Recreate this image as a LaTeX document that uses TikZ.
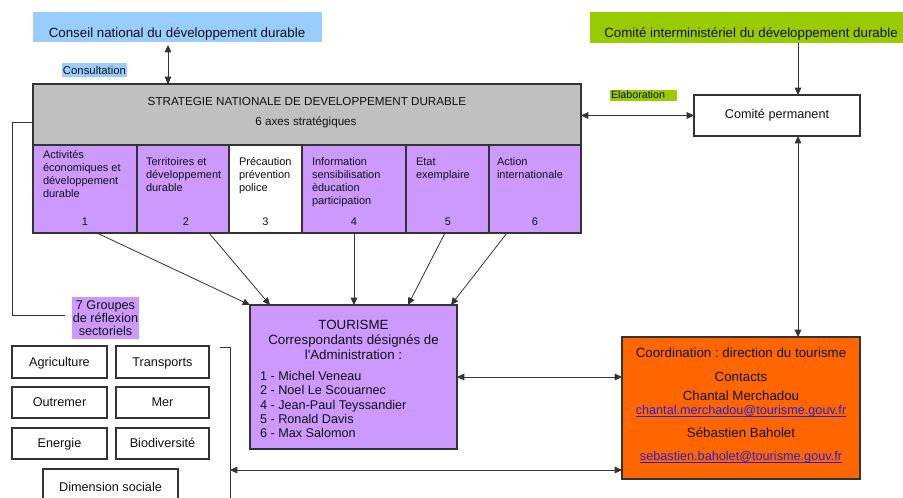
\documentclass[tikz,border=0pt]{standalone}
\usepackage{fontspec}
\setmainfont{Liberation Sans}
\usetikzlibrary{arrows.meta,calc}
\frenchspacing
\definecolor{cblue}{HTML}{99CCFF}
\definecolor{cgreen}{HTML}{99CC00}
\definecolor{cpurple}{HTML}{CC99FF}
\definecolor{cgray}{HTML}{C0C0C0}
\definecolor{corange}{HTML}{FF6600}
\definecolor{bord}{HTML}{333333}
\definecolor{ink}{HTML}{111111}
\definecolor{mail}{HTML}{2222DD}
\newcommand\mailul[1]{{\setbox0=\hbox{#1}\rlap{\rule[-1.3pt]{\wd0}{0.55pt}}\box0}}
\begin{document}
\begin{tikzpicture}[x=0.75pt,y=-0.75pt,
  sz/.style 2 args={minimum width=#1*0.75pt, minimum height=#2*0.75pt},
  box/.style={draw=bord, line width=0.9pt, inner sep=0pt, outer sep=0pt, text=ink},
  flat/.style={draw=none, inner sep=0pt, outer sep=0pt, text=ink},
  txt/.style={inner sep=0pt, outer sep=0pt, text=ink},
  ln/.style={draw=bord, line width=0.6pt},
  arr/.style={ln, -{Triangle[length=5.5pt,width=5pt]}},
  darr/.style={ln, {Triangle[length=5.5pt,width=5pt]}-{Triangle[length=5.5pt,width=5pt]}},
  f10/.style={font=\fontsize{10pt}{12pt}\selectfont},
  f95/.style={font=\fontsize{9.5pt}{11pt}\selectfont},
  sect/.style={box, fill=white, f95, text height=6.6pt, text depth=0pt},
  fcol/.style={font=\fontsize{8.25pt}{9.75pt}\selectfont},
]
\useasboundingbox (0,0) rectangle (903,497);
\clip (0,0) rectangle (903,497);
\fill[white] (0,0) rectangle (903,497);

% top boxes
\node[flat, fill=cblue, sz={289}{30}] (cnd) at (177.5,27) {};
\node[txt, f10, anchor=base] (cndt) at (177,37) {Conseil national du développement durable};
\node[flat, fill=cgreen, sz={322}{31}] (cid) at (751,27.5) {};
\node[txt, f10, anchor=base] (cidt) at (751,37) {Comité interministériel du développement durable};

% labels
\node[flat, fill=cblue, sz={65}{14}, font=\fontsize{8.5pt}{10pt}\selectfont] (cons) at (94.5,70) {Consultation};
\node[flat, fill=cgreen, sz={67}{11}] (elab) at (643.5,95.5) {};
\node[txt, anchor=base west, font=\fontsize{8pt}{9pt}\selectfont] (elabt) at (611,98) {Elaboration};

% strategy
\node[box, fill=cgray, sz={548}{61}] (strat) at (307,114.5) {};
\node[txt, anchor=base, font=\fontsize{8.75pt}{10pt}\selectfont] (strat1) at (307,105) {STRATEGIE NATIONALE DE DEVELOPPEMENT DURABLE};
\node[txt, anchor=base, font=\fontsize{8.75pt}{10pt}\selectfont] (strat2) at (306,125) {6 axes stratégiques};

\node[box, fill=cpurple, sz={104}{88}] (c1) at (85,189) {};
\node[box, fill=cpurple, sz={92}{88}] (c2) at (183,189) {};
\node[box, fill=white, sz={73}{88}] (c3) at (265.5,189) {};
\node[box, fill=cpurple, sz={104}{88}] (c4) at (354,189) {};
\node[box, fill=cpurple, sz={83}{88}] (c5) at (447.5,189) {};
\node[box, fill=cpurple, sz={92}{88}] (c6) at (535,189) {};

\node[txt, fcol, align=left, anchor=north west] (c1t) at (43,150) {Activités\\économiques et\\développement\\durable};
\node[txt, fcol, align=left, anchor=north west] (c2t) at (146,158) {Territoires et\\développement\\durable};
\node[txt, fcol, align=left, anchor=north west] (c3t) at (239,157) {Précaution\\prévention\\police};
\node[txt, fcol, align=left, anchor=north west] (c4t) at (312,158) {Information\\sensibilisation\\èducation\\participation};
\node[txt, fcol, align=left, anchor=north west] (c5t) at (416,158) {Etat\\exemplaire};
\node[txt, fcol, align=left, anchor=north west] (c6t) at (497,158) {Action\\internationale};

\node[txt, fcol, anchor=base] (n1) at (85,225) {1};
\node[txt, fcol, anchor=base] (n2) at (186,225) {2};
\node[txt, fcol, anchor=base] (n3) at (265.5,225) {3};
\node[txt, fcol, anchor=base] (n4) at (354,225) {4};
\node[txt, fcol, anchor=base] (n5) at (448,225) {5};
\node[txt, fcol, anchor=base] (n6) at (535,225) {6};

% comite permanent
\node[box, fill=white, sz={166}{41}] (cp) at (777,115.5) {};
\node[txt, f95, anchor=base] (cpt) at (777,118) {Comité permanent};

% groupes label
\node[flat, fill=cpurple, sz={67}{42}, align=center, font=\fontsize{9.5pt}{10pt}\selectfont] (grp) at (105.5,318) {7 Groupes\\de réflexion\\sectoriels};

% tourisme
\node[box, fill=cpurple, sz={207}{144}] (tour) at (353.5,377) {};
\node[txt, align=center, anchor=north, font=\fontsize{10pt}{11.25pt}\selectfont] (tourt) at (353.5,320) {TOURISME\\Correspondants désignés de\\l\textquotesingle Administration :};
\node[txt, align=left, anchor=north west, font=\fontsize{9.5pt}{10.7pt}\selectfont] (tourl) at (260,371.5) {1 - Michel Veneau\\2 - Noel Le Scouarnec\\4 - Jean-Paul Teyssandier\\5 - Ronald Davis\\6 - Max Salomon};

% orange
\node[box, fill=corange, sz={238}{142}] (orng) at (741,408) {};
\node[txt, align=center, anchor=north, font=\fontsize{10pt}{10.5pt}\selectfont] (orngt) at (741,348)
 {Coordination : direction du tourisme\\[7.5pt]
  Contacts\\[3.75pt]
  Chantal Merchadou\\
  {\fontsize{9.5pt}{10pt}\selectfont\color{mail}\mailul{chantal.merchadou@tourisme.gouv.fr}}\\[6.5pt]
  Sébastien Baholet\\[7.2pt]
  {\fontsize{9.5pt}{10pt}\selectfont\color{mail}\mailul{sebastien.baholet@tourisme.gouv.fr}}};

% sector boxes
\node[sect, sz={95}{32}] (agri) at (59.5,362) {Agriculture};
\node[sect, sz={93}{32}] (trans) at (162.5,362) {Transports};
\node[sect, sz={95}{31}] (outre) at (59.5,402.5) {Outremer};
\node[sect, sz={93}{31}] (mer) at (162.5,402.5) {Mer};
\node[sect, sz={95}{31}] (ener) at (59.5,443.5) {Energie};
\node[sect, sz={93}{31}] (bio) at (162.5,443.5) {Biodiversité};
\node[sect, sz={135}{36}] (dim) at (110.5,487) {Dimension sociale};

% connectors
\coordinate (cx) at (168,0);
\draw[darr, shorten <=2.25pt] (cx |- cnd.south) -- (cx |- strat.north);
\draw[darr] (strat.east |- cp.west) -- (cp.west);
\coordinate (vx) at (798,0);
\draw[arr] (vx |- cid.south) -- (vx |- cp.north);
\draw[darr] (vx |- cp.south) -- (vx |- orng.north);
\draw[darr] (tour.east) -- (tour.east -| orng.west);
\coordinate (brk) at (230,470);
\draw[darr] (brk) -- (brk -| orng.west);
\coordinate (bt) at (220,347);
\coordinate (bb) at (230,510);
\draw[ln] (bt) -- (bt -| bb) -- (bb);
\coordinate (lc) at (12,315);
\draw[ln] ($(strat.west)+(0,7.5)$) -| (lc) -- ++(53,0);

\draw[arr] ($(c1.south)+(12,0)$) -- (tour.north west);
\draw[arr] ($(c2.south)+(26,0)$) -- ($(tour.north)+(-83.5,0)$);
\draw[arr] (c4.south) -- (c4.south |- tour.north);
\draw[arr] ($(c5.south)+(-2.5,0)$) -- ($(tour.north)+(54.5,0)$);
\draw[arr] ($(c6.south)+(-28,0)$) -- ($(tour.north)+(97.5,0)$);
\end{tikzpicture}
\end{document}
